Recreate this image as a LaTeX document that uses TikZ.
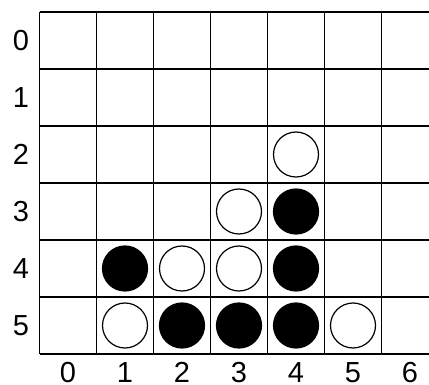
\documentclass[tikz,border=0pt]{standalone}
\usepackage{fontspec}
\setmainfont{Liberation Sans}
\begin{document}
\begin{tikzpicture}[x=1pt,y=-1pt,
  gridline/.style={line width=1.5pt,black},
  blackstone/.style={fill=black,draw=black,line width=1.2pt},
  whitestone/.style={fill=white,draw=black,line width=1.2pt},
  lab/.style={font=\fontsize{29}{29}\selectfont,inner sep=0pt,text height=20.8pt,text depth=0pt}]
\useasboundingbox (0,0) rectangle (429,385);
\clip (0,0) rectangle (429,385);
% grid
\foreach \i in {0,...,6} {
  \draw[gridline] (39.5,12+57*\i) -- (440,12+57*\i);
}
\foreach \j in {0,...,7} {
  \draw[gridline] (39.5+57*\j,12) -- (39.5+57*\j,354);
}
% labels
\foreach \r in {0,...,5} {
  \node[lab] (row\r) at (21,40.5+57*\r) {\r};
}
\foreach \c in {0,...,6} {
  \node[lab] (col\c) at (68+57*\c,372.5) {\c};
}
% black stones
\foreach \c/\r in {1/4, 2/5, 3/5, 4/5, 4/4, 4/3} {
  \draw[blackstone] (68+57*\c,40.5+57*\r) circle (22.5);
}
% white stones
\foreach \c/\r in {4/2, 3/3, 2/4, 3/4, 1/5, 5/5} {
  \draw[whitestone] (68+57*\c,40.5+57*\r) circle (22.5);
}
\end{tikzpicture}
\end{document}
